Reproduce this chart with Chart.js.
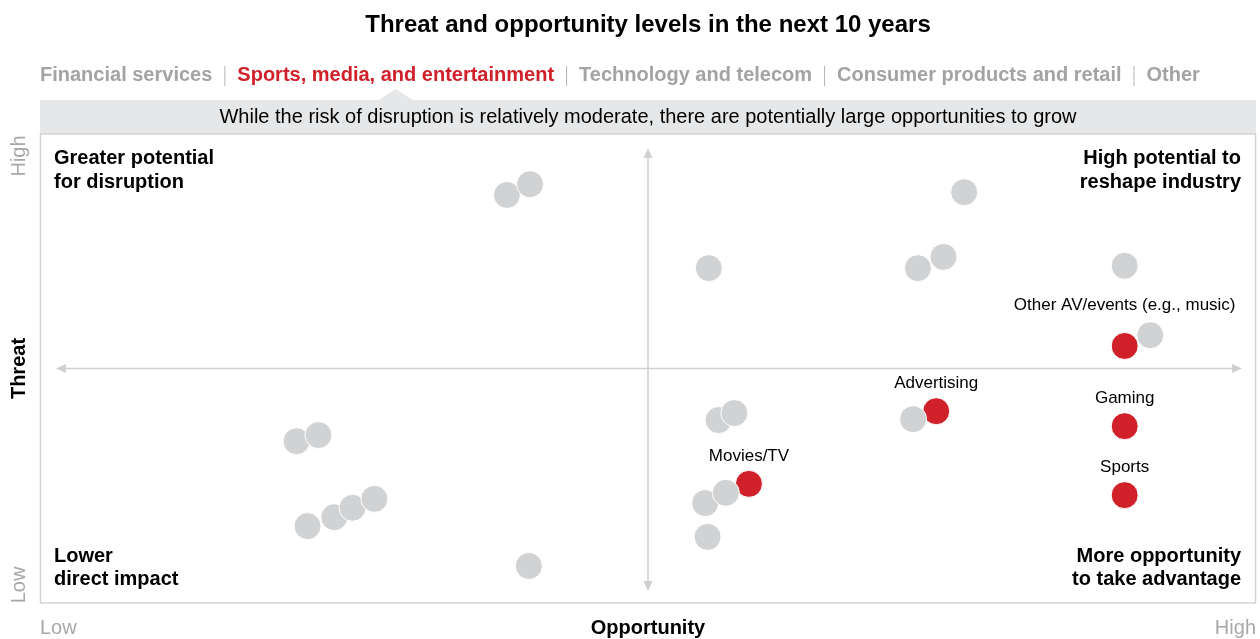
<!DOCTYPE html>
<html>
<head>
<meta charset="utf-8">
<script src="https://cdn.jsdelivr.net/npm/chart.js@4"></script>
<style>
  html, body { margin: 0; padding: 0; background: #fff; overflow: hidden; }
  canvas { display: block; }
</style>
</head>
<body>
<canvas id="chartCanvas" width="1260" height="639"></canvas>
<script>
const FONT = '"Liberation Sans", Arial, sans-serif';

// other sectors (gray)
const grayX = [38.4, 40.3, 55.0, 76.0, 72.2, 74.3, 89.2, 91.3, 21.1, 22.9, 22.0, 24.2, 25.7, 27.5, 40.2, 55.8, 57.1, 71.8, 54.7, 56.4, 54.9];
const grayY = [87.0, 89.3, 71.4, 87.6, 71.4, 73.8, 71.9, 57.1, 34.5, 35.8, 16.4, 18.3, 20.3, 22.2, 7.9, 39.0, 40.5, 39.2, 21.3, 23.5, 14.1];

// sports, media, and entertainment (red)
const redNames = ["Other AV/events (e.g., music)", "Advertising", "Gaming", "Sports", "Movies/TV"];
const redX = [89.2, 73.7, 89.2, 89.2, 58.3];
const redY = [54.8, 40.9, 37.7, 23.0, 25.4];

const tabs = ["Financial services", "Sports, media, and entertainment", "Technology and telecom", "Consumer products and retail", "Other"];
const activeTab = 1;

const quadrants = [
  ["Greater potential", "for disruption"],
  ["High potential to", "reshape industry"],
  ["Lower", "direct impact"],
  ["More opportunity", "to take advantage"],
];

const GRAY = "#d1d2d4";
const RED = "#d0202a";

function toPoints(xs, ys) {
  return xs.map((x, i) => ({ x: x, y: ys[i] }));
}

const decor = {
  id: "decor",
  beforeDatasetsDraw(chart) {
    const ctx = chart.ctx;
    const a = chart.chartArea;
    const sx = chart.scales.x, sy = chart.scales.y;
    const cx = sx.getPixelForValue(50), cy = sy.getPixelForValue(50);
    ctx.save();

    // title
    ctx.fillStyle = "#000";
    ctx.font = "bold 24px " + FONT;
    ctx.textAlign = "center";
    ctx.textBaseline = "middle";
    ctx.fillText("Threat and opportunity levels in the next 10 years", cx, 25);

    // tabs
    ctx.font = "bold 20px " + FONT;
    ctx.textAlign = "left";
    let tx = a.left;
    let notchX = 0;
    tabs.forEach((t, i) => {
      const w = ctx.measureText(t).width;
      ctx.fillStyle = i === activeTab ? RED : "#a3a3a3";
      ctx.fillText(t, tx, 75);
      if (i === activeTab) notchX = tx + w / 2;
      tx += w;
      if (i < tabs.length - 1) {
        ctx.strokeStyle = "#b5b5b5";
        ctx.lineWidth = 1;
        ctx.beginPath();
        ctx.moveTo(tx + 12.5, 66);
        ctx.lineTo(tx + 12.5, 86);
        ctx.stroke();
        tx += 25;
      }
    });

    // strip with notch
    ctx.fillStyle = "#e6e7e8";
    ctx.fillRect(a.left, 100, a.right - a.left, a.top - 100);
    ctx.beginPath();
    ctx.moveTo(notchX - 17, 100);
    ctx.lineTo(notchX, 89);
    ctx.lineTo(notchX + 17, 100);
    ctx.closePath();
    ctx.fill();
    ctx.fillStyle = "#000";
    ctx.font = "20px " + FONT;
    ctx.textAlign = "center";
    ctx.fillText("While the risk of disruption is relatively moderate, there are potentially large opportunities to grow", cx, 117);

    // box
    ctx.strokeStyle = "#d3d3d3";
    ctx.lineWidth = 1.5;
    ctx.strokeRect(a.left + 0.5, a.top, a.right - a.left - 1, a.bottom - a.top);

    // arrows
    ctx.strokeStyle = "#d0d0d0";
    ctx.fillStyle = "#d0d0d0";
    ctx.lineWidth = 1.5;
    ctx.beginPath();
    ctx.moveTo(a.left + 22, cy);
    ctx.lineTo(a.right - 20, cy);
    ctx.moveTo(cx, a.top + 20);
    ctx.lineTo(cx, a.bottom - 18);
    ctx.stroke();
    const head = (x, y, dx, dy) => {
      ctx.beginPath();
      ctx.moveTo(x, y);
      ctx.lineTo(x - dx * 10 - dy * 4.5, y - dy * 10 - dx * 4.5);
      ctx.lineTo(x - dx * 10 + dy * 4.5, y - dy * 10 + dx * 4.5);
      ctx.closePath();
      ctx.fill();
    };
    head(a.left + 16, cy, -1, 0);
    head(a.right - 14, cy, 1, 0);
    head(cx, a.top + 14, 0, -1);
    head(cx, a.bottom - 12, 0, 1);

    // quadrant labels
    ctx.fillStyle = "#000";
    ctx.font = "bold 20px " + FONT;
    ctx.textAlign = "left";
    ctx.fillText(quadrants[0][0], a.left + 14, 158);
    ctx.fillText(quadrants[0][1], a.left + 14, 182);
    ctx.fillText(quadrants[2][0], a.left + 14, 556);
    ctx.fillText(quadrants[2][1], a.left + 14, 579);
    ctx.textAlign = "right";
    ctx.fillText(quadrants[1][0], a.right - 15, 158);
    ctx.fillText(quadrants[1][1], a.right - 15, 182);
    ctx.fillText(quadrants[3][0], a.right - 15, 556);
    ctx.fillText(quadrants[3][1], a.right - 15, 579);

    // axis labels
    ctx.font = "20px " + FONT;
    ctx.fillStyle = "#a8a8a8";
    ctx.textAlign = "left";
    ctx.fillText("Low", a.left, 628);
    ctx.textAlign = "right";
    ctx.fillText("High", a.right, 628);
    ctx.fillStyle = "#000";
    ctx.font = "bold 20px " + FONT;
    ctx.textAlign = "center";
    ctx.fillText("Opportunity", cx, 628);

    const vText = (t, y, font, color) => {
      ctx.save();
      ctx.translate(19, y);
      ctx.rotate(-Math.PI / 2);
      ctx.font = font;
      ctx.fillStyle = color;
      ctx.textAlign = "center";
      ctx.fillText(t, 0, 0);
      ctx.restore();
    };
    vText("High", 156, "20px " + FONT, "#a8a8a8");
    vText("Low", 585, "20px " + FONT, "#a8a8a8");
    vText("Threat", cy, "bold 20px " + FONT, "#000");
    ctx.restore();
  },
  afterDatasetsDraw(chart) {
    const ctx = chart.ctx;
    const sx = chart.scales.x, sy = chart.scales.y;
    ctx.save();
    ctx.fillStyle = "#000";
    ctx.font = "17px " + FONT;
    ctx.textAlign = "center";
    ctx.textBaseline = "middle";
    redNames.forEach((n, i) => {
      // the top label sits higher so it clears the neighbouring gray dot
      const off = i === 0 ? 41 : 28;
      ctx.fillText(n, sx.getPixelForValue(redX[i]), sy.getPixelForValue(redY[i]) - off);
    });
    ctx.restore();
  },
};

const ctxChart = document.getElementById("chartCanvas").getContext("2d");
const chart = new Chart(ctxChart, {
  type: "scatter",
  data: {
    datasets: [
      {
        label: "Other sectors",
        data: toPoints(grayX, grayY),
        backgroundColor: GRAY,
        borderColor: "#fff",
        borderWidth: 1,
        pointRadius: 13.5,
        pointHoverRadius: 13.5,
      },
      {
        label: "Sports, media, and entertainment",
        data: toPoints(redX, redY),
        backgroundColor: RED,
        borderColor: "#fff",
        borderWidth: 1,
        pointRadius: 13.5,
        pointHoverRadius: 13.5,
      },
    ],
  },
  options: {
    responsive: false,
    animation: false,
    layout: { autoPadding: false, padding: { left: 40, right: 4, top: 134, bottom: 36 } },
    scales: {
      x: { type: "linear", min: 0, max: 100, display: false },
      y: { type: "linear", min: 0, max: 100, display: false },
    },
    plugins: {
      legend: { display: false },
      tooltip: { enabled: false },
    },
  },
  plugins: [decor],
});
</script>
</body>
</html>
